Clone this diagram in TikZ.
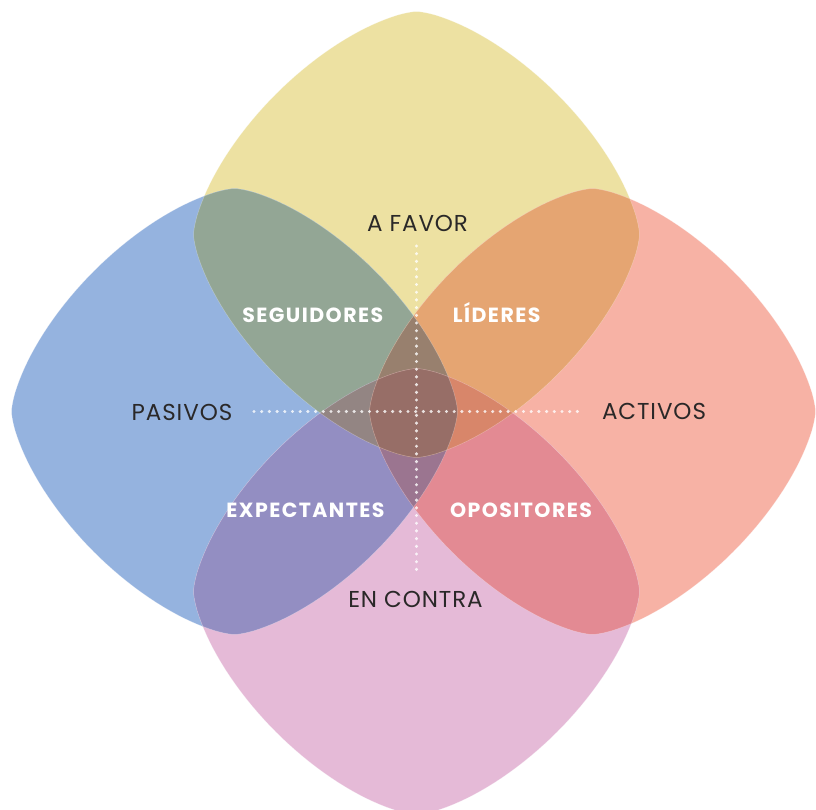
\documentclass[tikz,border=0pt]{standalone}
\usepackage{fontspec}
\setmainfont{Poppins}
\usetikzlibrary{positioning}

% single petals
\definecolor{favorfill}{HTML}{EDE1A2}
\definecolor{pasivofill}{HTML}{95B3DF}
\definecolor{activofill}{HTML}{F7B2A5}
\definecolor{contrafill}{HTML}{E5BAD7}
% overlaps
\definecolor{seguidorfill}{HTML}{93A695}
\definecolor{liderfill}{HTML}{E5A572}
\definecolor{expectantefill}{HTML}{938EC2}
\definecolor{opositorfill}{HTML}{E38A93}
\definecolor{topfill}{HTML}{98806E}
\definecolor{bottomfill}{HTML}{9B7590}
\definecolor{leftfill}{HTML}{938583}
\definecolor{rightfill}{HTML}{D8866A}
\definecolor{corefill}{HTML}{976E67}
\definecolor{inkdark}{HTML}{2A2828}

% rounded diamond |x|^1.5 + |y|^1.5 = r^1.5 around (#1,#2)
\newcommand\petalpath[2]{plot[domain=1:361, samples=181]
    ({#1+223*sign(cos(\x))*abs(cos(\x))^(4/3)},
     {#2+223*sign(sin(\x))*abs(sin(\x))^(4/3)}) -- cycle}

\tikzset{
    axislabel/.style={anchor=base, text=inkdark, inner sep=0pt,
        font=\fontsize{23}{26}\selectfont\addfontfeatures{LetterSpace=4}},
    grouplabel/.style={anchor=base, text=white, inner sep=0pt,
        font=\bfseries\fontsize{20.5}{24}\selectfont\addfontfeatures{LetterSpace=7}},
    petaledge/.style={draw=white, draw opacity=0.3, line width=0.5pt},
    axisdots/.style={white, opacity=0.8, line width=3.4pt, line cap=round,
        dash pattern=on 0pt off 7.7pt}
}

\begin{document}
\begin{tikzpicture}[x=1pt,y=1pt]
    \fill[white] (-416.5,-397.5) rectangle (399.5,411.5);
    \useasboundingbox (-416.5,-397.5) rectangle (399.5,411.5);

    % Petals
    \foreach \cx/\cy/\col in {0/177/favorfill, -182/0/pasivofill, 176/0/activofill, 0/-180/contrafill}
        \fill[\col] \petalpath{\cx}{\cy};

    % Two petals
    \foreach \ax/\ay/\bx/\by/\col in {0/177/-182/0/seguidorfill, 0/177/176/0/liderfill,
                                      0/-180/-182/0/expectantefill, 0/-180/176/0/opositorfill} {
        \begin{scope}
            \clip \petalpath{\ax}{\ay};
            \fill[\col] \petalpath{\bx}{\by};
        \end{scope}
    }

    % Three petals
    \foreach \ax/\ay/\bx/\by/\cx/\cy/\col in {-182/0/176/0/0/177/topfill, -182/0/176/0/0/-180/bottomfill,
                                              0/177/0/-180/-182/0/leftfill, 0/177/0/-180/176/0/rightfill} {
        \begin{scope}
            \clip \petalpath{\ax}{\ay};
            \clip \petalpath{\bx}{\by};
            \fill[\col] \petalpath{\cx}{\cy};
        \end{scope}
    }

    % All four
    \begin{scope}
        \clip \petalpath{0}{177};
        \clip \petalpath{0}{-180};
        \clip \petalpath{-182}{0};
        \fill[corefill] \petalpath{176}{0};
    \end{scope}

    \foreach \cx/\cy in {0/177, -182/0, 176/0, 0/-180}
        \path[petaledge] \petalpath{\cx}{\cy};

    % Axes
    \coordinate (west) at (-162.5,0);
    \coordinate (east) at (161.5,0);
    \coordinate (north) at (0,165.5);
    \coordinate (south) at (0,-158.5);
    \draw[axisdots] (west) -- (east);
    \draw[axisdots] (north) -- (south);

    % Axis labels
    \node[axislabel] (favor) at (1,179.8) {A FAVOR};
    \node[axislabel] (contra) at (-1,-196) {EN CONTRA};
    \node[axislabel] (pasivos) at (-234.5,-8.5) {PASIVOS};
    \node[axislabel] (activos) at (237.5,-7.5) {ACTIVOS};

    % Quadrants
    \node[grouplabel] (seguidores) at (-103.7,88.8) {SEGUIDORES};
    \node[grouplabel] (lideres) at (80.2,88.8) {LÍDERES};
    \node[grouplabel] (expectantes) at (-111,-105.5) {EXPECTANTES};
    \node[grouplabel] (opositores) at (104.5,-105.5) {OPOSITORES};
\end{tikzpicture}
\end{document}
